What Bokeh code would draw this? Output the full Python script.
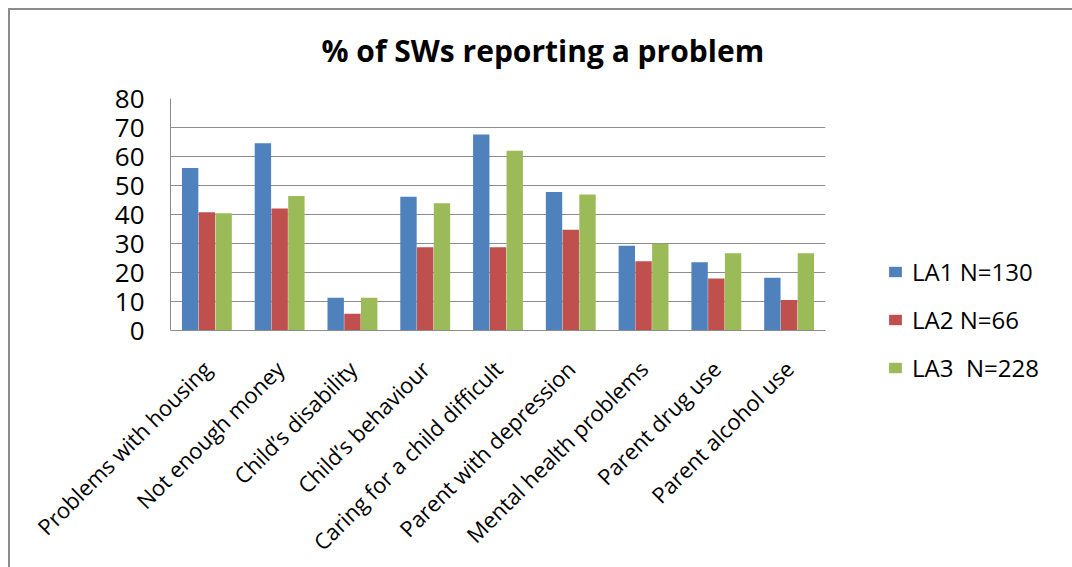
import math
from bokeh.plotting import figure
from bokeh.models import FactorRange, Legend, LegendItem, ColumnDataSource, FixedTicker, Title
from bokeh.transform import dodge
from bokeh.embed import file_html
from bokeh.resources import INLINE

categories = ["Problems with housing", "Not enough money", "Child’s disability",
              "Child’s behaviour", "Caring for a child difficult", "Parent with depression",
              "Mental health problems", "Parent drug use", "Parent alcohol use"]
series_names = ["LA1 N=130", "LA2 N=66", "LA3  N=228"]
la1 = [56.0, 64.6, 11.3, 46.1, 67.6, 47.8, 29.2, 23.5, 18.2]
la2 = [40.8, 42.1, 5.8, 28.7, 28.7, 34.7, 23.9, 17.9, 10.5]
la3 = [40.4, 46.4, 11.3, 43.9, 62.0, 46.9, 29.9, 26.6, 26.6]
y_ticks = [0, 10, 20, 30, 40, 50, 60, 70, 80]
title_text = "% of SWs reporting a problem"

colors = ["#4F81BD", "#C0504D", "#9BBB59"]
FONT = "Open Sans"
GRID = "#8c8c8c"

src = ColumnDataSource(data=dict(cat=categories, la1=la1, la2=la2, la3=la3))

p = figure(x_range=FactorRange(*categories, range_padding=0), y_range=(0, 80),
           frame_width=655, frame_height=232, output_backend="svg", toolbar_location=None,
           min_border_left=160, min_border_right=230, min_border_top=88, min_border_bottom=220)
p.styles = {"margin-left": "8px", "margin-top": "8px",
            "border-top": "2px solid #8c8c8c", "border-left": "2px solid #8c8c8c"}

# spacer between the frame and the title
p.add_layout(Title(text=" ", text_font_size="2px", standoff=7), "above")

p.title.text = title_text
p.title.align = "left"
p.title.offset = 151
p.title.text_font = FONT
p.title.text_font_size = "30px"
p.title.text_font_style = "bold"
p.title.text_color = "black"
p.title.standoff = 34

offsets = [-0.23, 0.0, 0.23]
renderers = []
for col, off, c in zip(["la1", "la2", "la3"], offsets, colors):
    r = p.vbar(x=dodge("cat", off, range=p.x_range), top=col, width=0.225, source=src,
               fill_color=c, line_color=None)
    renderers.append(r)

p.outline_line_color = None
p.background_fill_color = "white"
p.border_fill_color = "white"

p.xgrid.grid_line_color = None
p.ygrid.grid_line_color = GRID
p.ygrid.grid_line_width = 1
p.ygrid.ticker = FixedTicker(ticks=y_ticks)

p.yaxis.ticker = FixedTicker(ticks=y_ticks)
p.yaxis.axis_line_color = GRID
p.yaxis.major_tick_line_color = None
p.yaxis.minor_tick_line_color = None
p.yaxis.major_label_text_font = FONT
p.yaxis.major_label_text_font_size = "26px"
p.yaxis.major_label_text_color = "black"
p.yaxis.major_label_standoff = 20

p.xaxis.axis_line_color = GRID
p.xaxis.major_tick_line_color = None
p.xaxis.minor_tick_line_color = None
p.xaxis.major_label_orientation = math.pi / 4
p.xaxis.major_label_text_font = FONT
p.xaxis.major_label_text_font_size = "22px"
p.xaxis.major_label_text_color = "black"
p.xaxis.major_label_standoff = 28

legend = Legend(items=[LegendItem(label=n, renderers=[r]) for n, r in zip(series_names, renderers)],
                location=(62, -54))
legend.border_line_color = None
legend.background_fill_alpha = 0
legend.padding = 0
legend.margin = 0
legend.glyph_width = 16
legend.glyph_height = 13
legend.label_standoff = 9
legend.spacing = 15
legend.label_text_font = FONT
legend.label_text_font_size = "24px"
legend.label_text_color = "black"
p.add_layout(legend, "right")

open("out.html", "w").write(file_html(p, INLINE))
